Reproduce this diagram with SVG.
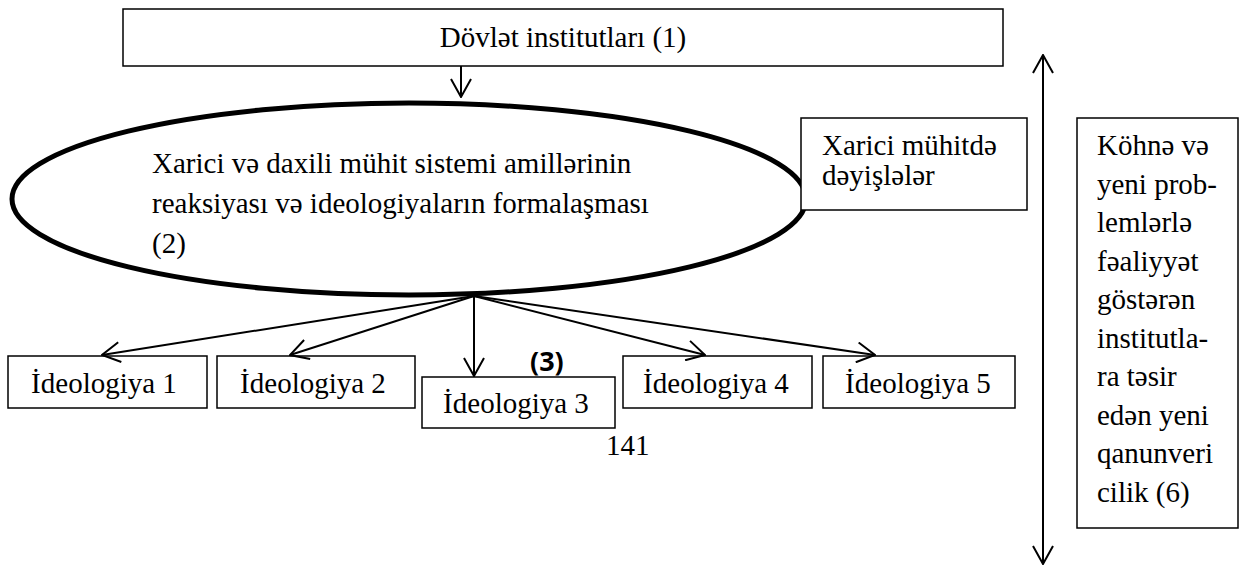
<svg xmlns="http://www.w3.org/2000/svg" width="1248" height="565" viewBox="0 0 1248 565">
<style>
.box{fill:#fff;stroke:#000;stroke-width:1.5}
.t{font-family:"Liberation Serif","Times New Roman",serif;font-size:29px;fill:#000}
.c{text-anchor:middle}
.ln{stroke:#000;stroke-width:2;fill:none}
</style>
<defs>
<marker id="ah" viewBox="0 0 20 22" refX="19" refY="11" markerWidth="20" markerHeight="22" markerUnits="userSpaceOnUse" orient="auto-start-reverse">
<path d="M1,1 L19,11 L1,21" fill="none" stroke="#000" stroke-width="2"/>
</marker>
</defs>
<rect width="1248" height="565" fill="#fff"/>
<g id="n1">
<rect class="box" x="123" y="9" width="880" height="57"/>
<text class="t c" x="563" y="47">Dövlət institutları (1)</text>
</g>
<g id="n2">
<ellipse cx="409" cy="199" rx="397" ry="96" fill="#fff" stroke="#000" stroke-width="5"/>
<text class="t" x="152" y="173">Xarici və daxili mühit sistemi amillərinin</text>
<text class="t" x="152" y="213">reaksiyası və ideologiyaların formalaşması</text>
<text class="t" x="152" y="253">(2)</text>
</g>
<g id="nX">
<rect class="box" x="801" y="118" width="226" height="92"/>
<text class="t" x="822" y="155">Xarici mühitdə</text>
<text class="t" x="822" y="185">dəyişlələr</text>
</g>
<g id="i1">
<rect class="box" x="8" y="356" width="199" height="52"/>
<text class="t c" x="104" y="393">İdeologiya 1</text>
</g>
<g id="i2">
<rect class="box" x="217" y="356" width="198" height="52"/>
<text class="t c" x="313" y="393">İdeologiya 2</text>
</g>
<g id="i3">
<rect class="box" x="422" y="377" width="193" height="51"/>
<text class="t c" x="516" y="413">İdeologiya 3</text>
</g>
<g id="i4">
<rect class="box" x="623" y="356" width="189" height="52"/>
<text class="t c" x="716" y="393">İdeologiya 4</text>
</g>
<g id="i5">
<rect class="box" x="823" y="356" width="192" height="52"/>
<text class="t c" x="918" y="393">İdeologiya 5</text>
</g>
<g id="n6">
<rect class="box" x="1077" y="118" width="161" height="410"/>
<text class="t" x="1097" y="155">Köhnə və</text>
<text class="t" x="1097" y="193.5">yeni prob-</text>
<text class="t" x="1097" y="232">lemlərlə</text>
<text class="t" x="1097" y="270.5">fəaliyyət</text>
<text class="t" x="1097" y="309">göstərən</text>
<text class="t" x="1097" y="347.5">institutla-</text>
<text class="t" x="1097" y="386">ra təsir</text>
<text class="t" x="1097" y="424.5">edən yeni</text>
<text class="t" x="1097" y="463">qanunveri</text>
<text class="t" x="1097" y="501.5">cilik (6)</text>
</g>
<g id="labels">
<text x="530" y="371" font-family="'Open Sans','Liberation Sans',sans-serif" font-weight="bold" font-size="27">(3)</text>
<text class="t" x="606" y="455">141</text>
</g>
<g id="connectors">
<line class="ln" x1="461" y1="66" x2="461" y2="97" marker-end="url(#ah)"/>
<line class="ln" x1="474" y1="296" x2="102" y2="355" marker-end="url(#ah)"/>
<line class="ln" x1="474" y1="296" x2="290" y2="355" marker-end="url(#ah)"/>
<line class="ln" x1="474" y1="296" x2="474" y2="376" marker-end="url(#ah)"/>
<line class="ln" x1="474" y1="296" x2="705" y2="355" marker-end="url(#ah)"/>
<line class="ln" x1="474" y1="296" x2="875" y2="355" marker-end="url(#ah)"/>
<line class="ln" x1="1043" y1="55" x2="1043" y2="564" stroke-width="2.5" marker-start="url(#ah)" marker-end="url(#ah)"/>
</g>
</svg>
